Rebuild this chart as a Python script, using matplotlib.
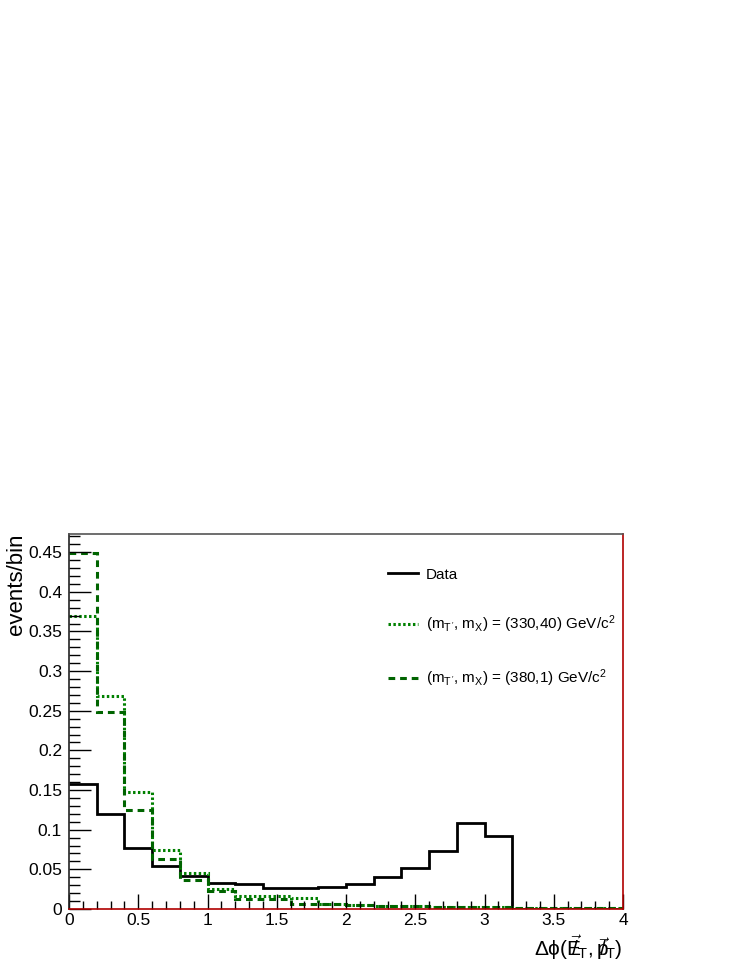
import numpy as np
import matplotlib.pyplot as plt
from matplotlib.ticker import MultipleLocator

plt.rcParams["font.family"] = ["Liberation Sans", "DejaVu Sans"]
plt.rcParams["mathtext.fontset"] = "custom"
plt.rcParams["mathtext.rm"] = "Liberation Sans"
plt.rcParams["mathtext.it"] = "Liberation Sans"
plt.rcParams["mathtext.sf"] = "Liberation Sans"

# bin edges of dphi(MET, pT), 0.2 wide
bin_edges = [0.0, 0.2, 0.4, 0.6, 0.8, 1.0, 1.2, 1.4, 1.6, 1.8, 2.0,
             2.2, 2.4, 2.6, 2.8, 3.0, 3.2, 3.4, 3.6, 3.8, 4.0]

data = [0.158, 0.120, 0.077, 0.054, 0.041, 0.033, 0.031, 0.026, 0.027, 0.028,
        0.032, 0.040, 0.052, 0.073, 0.109, 0.092, 0.0, 0.0, 0.0, 0.0]
sig_330_40 = [0.370, 0.269, 0.147, 0.074, 0.045, 0.025, 0.017, 0.017, 0.014, 0.006,
              0.005, 0.004, 0.004, 0.003, 0.003, 0.002, 0.001, 0.001, 0.001, 0.001]
sig_380_1 = [0.449, 0.249, 0.125, 0.063, 0.037, 0.023, 0.013, 0.013, 0.006, 0.006,
             0.005, 0.004, 0.004, 0.003, 0.003, 0.002, 0.001, 0.001, 0.001, 0.001]

labels = ["Data",
          r"(m$_{T'}$, m$_{X}$) = (330,40) GeV/c$^{2}$",
          r"(m$_{T'}$, m$_{X}$) = (380,1) GeV/c$^{2}$"]

fig = plt.figure(figsize=(7.47, 9.67), dpi=100)
ax = fig.add_axes([0.0924, 0.060, 0.7416, 0.3878])

ax.stairs(data, bin_edges, baseline=None, color="black", lw=2, label=labels[0])
ax.stairs(sig_330_40, bin_edges, baseline=None, color="#008000", lw=2.2,
          ls=(0, (0.8, 0.8)), label=labels[1])
ax.stairs(sig_380_1, bin_edges, baseline=None, color="#006400", lw=2.2,
          ls=(0, (2.2, 1.6)), label=labels[2])

ax.set_xlim(0, 4)
ax.set_ylim(0, 0.473)

ax.xaxis.set_major_locator(MultipleLocator(0.5))
ax.xaxis.set_minor_locator(MultipleLocator(0.1))
ax.yaxis.set_major_locator(MultipleLocator(0.05))
ax.yaxis.set_minor_locator(MultipleLocator(0.01))
ax.xaxis.set_major_formatter(plt.FuncFormatter(lambda v, p: f"{v:g}"))
ax.yaxis.set_major_formatter(plt.FuncFormatter(lambda v, p: f"{v:g}"))

ax.tick_params(axis="x", which="major", direction="in", length=11, width=1, labelsize=12.5, pad=3)
ax.tick_params(axis="x", which="minor", direction="in", length=6, width=1)
ax.tick_params(axis="y", which="major", direction="in", length=16, width=1, labelsize=12.5, pad=5)
ax.tick_params(axis="y", which="minor", direction="in", length=8, width=1)

ax.spines["top"].set_color("#555555")
ax.spines["left"].set_color("#222222")
ax.spines["bottom"].set_color("#b00000")
ax.spines["right"].set_color("#b00000")
for s in ax.spines.values():
    s.set_linewidth(1.2)

ax.set_ylabel("events/bin", loc="top", fontsize=16, labelpad=1)
ax.set_xlabel(r"$\Delta\phi(\vec{E}\!\!\!/_{T}, \vec{p}\!\!\!/_{T})$", loc="right", fontsize=15, labelpad=4)

ax.legend(loc="upper left", bbox_to_anchor=(0.519, 0.413), bbox_transform=fig.transFigure,
          frameon=False, fontsize=11, handlelength=2.0, handletextpad=0.5,
          labelspacing=2.1, borderaxespad=0, borderpad=0)

fig.savefig("out.png", dpi=100)
